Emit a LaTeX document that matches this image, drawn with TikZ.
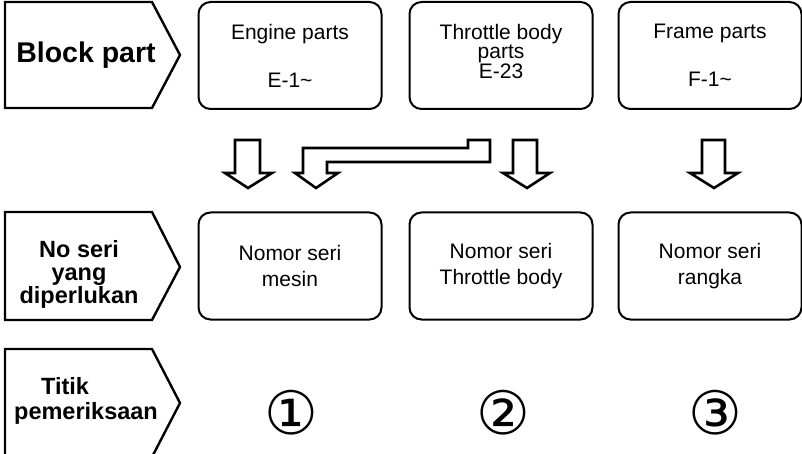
\documentclass[tikz,border=0pt]{standalone}
\usepackage{fontspec}
\setmainfont{Liberation Sans}
\newfontfamily\dejavu{DejaVu Sans}
\begin{document}
\begin{tikzpicture}[x=1pt,y=-1pt,
  box/.style={draw, line width=2pt, rounded corners=12pt, minimum width=183pt,
    minimum height=107pt, align=center, inner sep=0pt,
    font=\fontsize{21}{26}\selectfont},
  tag/.style={draw, line width=2.4pt, line join=miter},
  blockarrow/.style={draw, line width=2.6pt, fill=white, line join=miter},
  lbl/.style={font=\bfseries\fontsize{23.5}{23}\selectfont, align=center, inner sep=0pt},
  circnum/.style={font=\dejavu\fontsize{60}{60}\selectfont, inner sep=0pt}]
\useasboundingbox (0,0) rectangle (802,454);
% left tags
\draw[tag] (5,2) -- (152,2) -- (180,55) -- (152,108) -- (5,108) -- cycle;
\draw[tag] (5,212) -- (152,212) -- (180,267) -- (152,320) -- (5,320) -- cycle;
\draw[tag] (5,349) -- (152,349) -- (180,403) -- (152,457) -- (5,457) -- cycle;
\node[lbl, font=\bfseries\fontsize{28.5}{28}\selectfont, anchor=base] (bp) at (86,63) {Block part};
\node[lbl] (ns) at (79,274) {No seri\\yang\\diperlukan};
\node[lbl, align=left, font=\bfseries\fontsize{23.5}{25}\selectfont] (tp) at (86,401) {\hspace*{27pt}Titik\\pemeriksaan};
% top boxes
\node[box] (eng) at (290,55.5) {Engine parts\\[22pt]E-1\char`~};
\node[box, font=\fontsize{21}{19}\selectfont, text depth=9pt] (thr) at (501,55.5) {Throttle body\\parts\\E-23};
\node[box] (frm) at (710,55.5) {Frame parts\\[22pt]F-1\char`~};
% middle boxes
\node[box] (mes) at (290,266) {Nomor seri\\mesin};
\node[box] (thb) at (501,266) {Nomor seri\\Throttle body};
\node[box] (rgk) at (710,266) {Nomor seri\\rangka};
% block arrows
\draw[blockarrow] (235,140) -- (260,140) -- (260,173) -- (272,173) -- (248,188) -- (225,173) -- (235,173) -- cycle;
\draw[blockarrow] (490,140) -- (490,162) -- (327,162) -- (327,173) -- (338,173) -- (316,188) -- (295,173) -- (303,173) -- (303,148) -- (468,148) -- (468,140) -- cycle;
\draw[blockarrow] (513,140) -- (537,140) -- (537,173) -- (550,173) -- (527,188) -- (503,173) -- (513,173) -- cycle;
\draw[blockarrow] (702,140) -- (725,140) -- (725,173) -- (738,173) -- (714,188) -- (690,173) -- (702,173) -- cycle;
% check points
\node[circnum] (c1) at (291,413) {①};
\node[circnum] (c2) at (503,413) {②};
\node[circnum] (c3) at (715,413) {③};
\end{tikzpicture}
\end{document}
